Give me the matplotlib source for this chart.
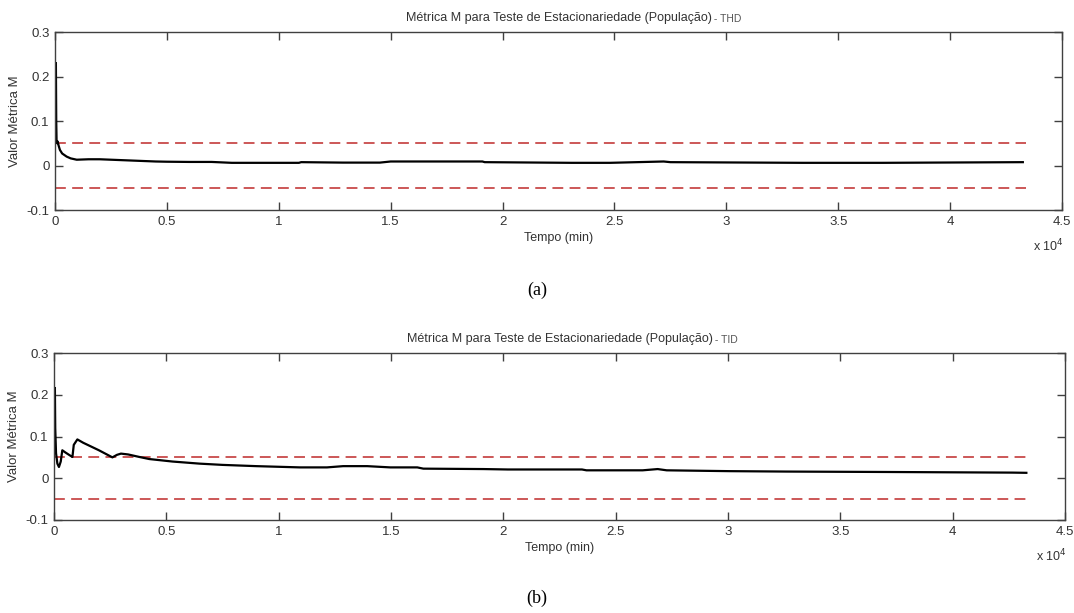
import matplotlib
matplotlib.use("Agg")
import matplotlib.pyplot as plt
from matplotlib.ticker import FuncFormatter, FixedLocator

plt.rcParams['font.family'] = ['Liberation Sans', 'DejaVu Sans']

# ---- data (time in minutes, metric value) ----
time_thd = [40, 55, 70, 90, 120, 160, 220, 320, 520, 700, 970, 1500, 2000, 2500,
            3000, 3500, 4000, 4500, 5000, 6000, 7000, 7900, 10900, 11000, 12870,
            14520, 15000, 19100, 19200, 23100, 24800, 27200, 27500, 33400, 37000, 43250]
metric_thd = [0.23, 0.10, 0.055, 0.05, 0.054, 0.045, 0.035, 0.027, 0.020, 0.016, 0.013,
              0.014, 0.014, 0.013, 0.012, 0.011, 0.010, 0.009, 0.0085, 0.008, 0.008,
              0.006, 0.006, 0.0075, 0.0065, 0.0065, 0.009, 0.009, 0.0075, 0.006, 0.006,
              0.009, 0.0075, 0.006, 0.006, 0.0075]

time_tid = [40, 55, 90, 150, 220, 300, 370, 500, 700, 820, 880, 1040, 1300, 2000, 2600,
            2800, 2980, 3300, 3800, 4240, 5280, 6480, 7500, 9000, 10950, 12150, 12870,
            13940, 14970, 16170, 16440, 19120, 20200, 22100, 23500, 23700, 26200, 26870,
            27270, 30070, 32600, 37050, 42660, 43280]
metric_tid = [0.216, 0.12, 0.06, 0.035, 0.027, 0.04, 0.067, 0.062, 0.055, 0.051, 0.08,
              0.093, 0.085, 0.067, 0.05, 0.056, 0.059, 0.057, 0.051, 0.046, 0.040, 0.035,
              0.032, 0.029, 0.026, 0.026, 0.029, 0.029, 0.026, 0.026, 0.023, 0.022, 0.021,
              0.021, 0.021, 0.019, 0.019, 0.022, 0.019, 0.017, 0.016, 0.015, 0.0135, 0.013]

limit_upper = 0.05
limit_lower = -0.05
limit_span = [0, 43400]

x_ticks = [0, 5000, 10000, 15000, 20000, 25000, 30000, 35000, 40000, 45000]
y_ticks = [-0.1, 0, 0.1, 0.2, 0.3]

title_main = "Métrica M para Teste de Estacionariedade (População)"
suffixes = [" - THD", " - TID"]
panel_labels = ["(a)", "(b)"]

W, H = 1074, 613
fig = plt.figure(figsize=(W / 100, H / 100), dpi=100)

# axes boxes in pixels: left, top, right, bottom
boxes = [(55, 32, 1062, 210), (54, 353, 1065, 520)]
series = [(time_thd, metric_thd), (time_tid, metric_tid)]
label_y = [290, 598]

spine_col = '#404040'
text_col = '#333333'
dash_col = '#c84a4a'

def fmt_x(v, pos):
    return f"{v / 1e4:g}"

def fmt_y(v, pos):
    if abs(v) < 1e-9:
        return "0"
    return f"{v:g}"

for i, (box, (t, m)) in enumerate(zip(boxes, series)):
    l, tp, r, b = box
    ax = fig.add_axes([l / W, 1 - b / H, (r - l) / W, (b - tp) / H])
    ax.plot(limit_span, [limit_upper, limit_upper], color=dash_col, lw=1.3,
            dashes=(6, 3.5))
    ax.plot(limit_span, [limit_lower, limit_lower], color=dash_col, lw=1.3,
            dashes=(6, 3.5))
    ax.plot(t, m, color='black', lw=1.6)
    ax.set_xlim(0, 45000)
    ax.set_ylim(-0.1, 0.3)
    ax.xaxis.set_major_locator(FixedLocator(x_ticks))
    ax.yaxis.set_major_locator(FixedLocator(y_ticks))
    ax.xaxis.set_major_formatter(FuncFormatter(fmt_x))
    ax.yaxis.set_major_formatter(FuncFormatter(fmt_y))
    ax.tick_params(direction='in', length=6, width=1, colors=spine_col,
                   top=True, right=True, labelsize=9.5, pad=4, labelcolor=text_col)
    for sp in ax.spines.values():
        sp.set_color(spine_col)
        sp.set_linewidth(1.0)
    ax.set_xlabel("Tempo (min)", fontsize=9, color=text_col, labelpad=3)
    ax.set_ylabel("Valor Métrica M", fontsize=9.5, color=text_col, labelpad=4)
    ttl = ax.set_title(title_main, fontsize=9, color=text_col, pad=8)
    ax.annotate(suffixes[i], xy=(1, 0), xycoords=ttl, va='bottom', ha='left',
                fontsize=7.5, color='#555555')
    # exponent label
    fig.text((r - 29) / W, 1 - (b + 36) / H, r"x 10$^{4}$", fontsize=9,
             color=text_col, ha='left', va='center')
    fig.text(0.5, 1 - label_y[i] / H, panel_labels[i], ha='center', va='center',
             fontsize=13, family=['Liberation Serif', 'DejaVu Serif'], color='black')

fig.savefig("out.png", dpi=100, facecolor='white')
